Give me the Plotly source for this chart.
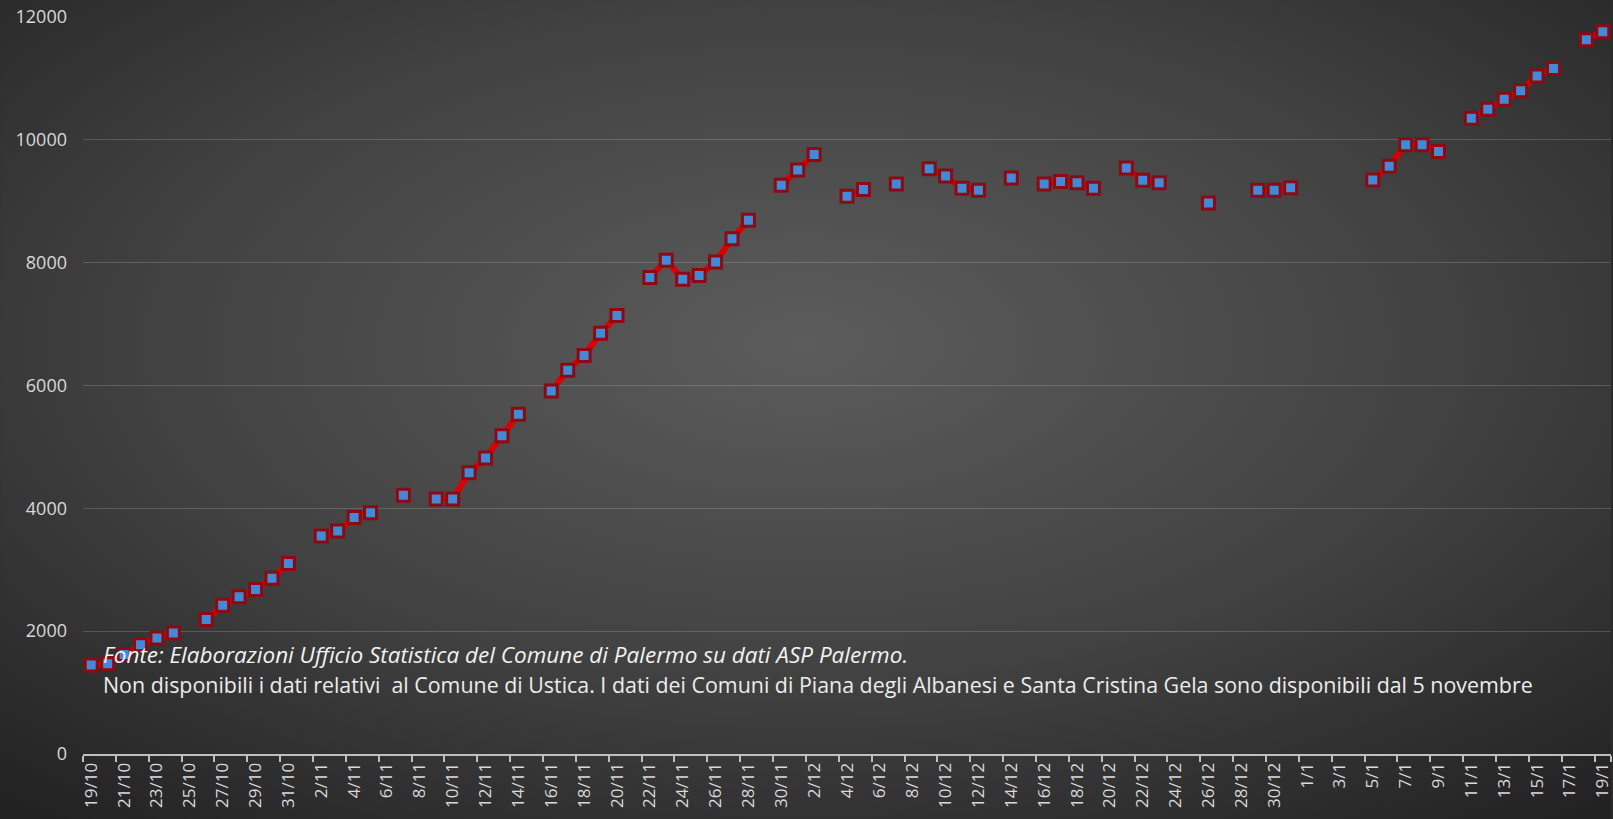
import base64
import plotly.graph_objects as go

# dates on the x axis, one category per day from 19/10 to 19/1
oct_days = [f"{d}/10" for d in range(19, 32)]
nov_days = [f"{d}/11" for d in range(1, 31)]
dec_days = [f"{d}/12" for d in range(1, 32)]
jan_days = [f"{d}/1" for d in range(1, 20)]
dates = oct_days + nov_days + dec_days + jan_days

# cumulative cases (None = no data that day)
oct_values = [1450, 1470, 1620, 1780, 1890, 1970, None, 2190, 2420, 2560, 2680, 2860, 3100]
nov_values = [None, 3550, 3630, 3850, 3930, None, 4215, None, 4150, 4150,
              4580, 4820, 5180, 5530, None, 5910, 6250, 6490, 6850, 7140,
              None, 7760, 8040, 7730, 7790, 8010, 8390, 8690, None, 9260]
dec_values = [9510, 9760, None, 9080, 9190, None, 9280, None, 9530, 9410,
              9210, 9180, None, 9380, None, 9280, 9320, 9300, 9210, None,
              9540, 9340, 9300, None, None, 8970, None, None, 9180, 9180, 9220]
jan_values = [None, None, None, None, 9345, 9570, 9920, 9920, 9810, None,
              10350, 10500, 10660, 10800, 11040, 11160, None, 11630, 11760]
values = oct_values + nov_values + dec_values + jan_values

# labels shown every other day
tick_labels = dates[::2]

y_ticks = [0, 2000, 4000, 6000, 8000, 10000, 12000]
y_tick_text = ["0", "2000", "4000", "6000", "8000", "10000", "12000"]

note_source = "Fonte: Elaborazioni Ufficio Statistica del Comune di Palermo su dati ASP Palermo."
note_missing = ("Non disponibili i dati relativi  al Comune di Ustica. I dati dei Comuni di Piana "
                "degli Albanesi e Santa Cristina Gela sono disponibili dal 5 novembre")

W, H = 1613, 819
L, R, T, B = 83, 0, 17, 65
pw, ph = W - L - R, H - T - B

# radial gradient background as an svg image
svg = (f"<svg xmlns='http://www.w3.org/2000/svg' width='{W}' height='{H}' "
       f"viewBox='0 0 {W} {H}' preserveAspectRatio='none'>"
       "<defs><radialGradient id='g' cx='0.5' cy='0.42' r='0.75'>"
       "<stop offset='0' stop-color='#5c5c5c'/>"
       "<stop offset='0.55' stop-color='#414141'/>"
       "<stop offset='1' stop-color='#222222'/>"
       "</radialGradient></defs>"
       f"<rect width='{W}' height='{H}' fill='url(#g)'/></svg>")
bg = "data:image/svg+xml;base64," + base64.b64encode(svg.encode()).decode()

fig = go.Figure()
fig.add_trace(go.Scatter(
    x=dates, y=values, mode="lines+markers", connectgaps=False,
    line=dict(color="#dc0000", width=6),
    marker=dict(symbol="square", size=12, color="#4289d8",
                line=dict(color="#8e0a12", width=3)),
    showlegend=False, hoverinfo="x+y",
))

fig.add_layout_image(dict(
    source=bg, xref="paper", yref="paper",
    x=-L / pw, y=1 + T / ph, sizex=W / pw, sizey=H / ph,
    xanchor="left", yanchor="top", sizing="stretch", layer="below",
))

fig.add_annotation(
    text=f"<i>{note_source}</i>", xref="paper", yref="paper",
    x=(101 - L) / pw, y=(754 - 654) / ph, xanchor="left", yanchor="middle",
    showarrow=False, font=dict(family="Open Sans", size=22.5, color="#f2f2f2"),
)
fig.add_annotation(
    text=note_missing, xref="paper", yref="paper",
    x=(101 - L) / pw, y=(754 - 684) / ph, xanchor="left", yanchor="middle",
    showarrow=False, font=dict(family="Open Sans", size=21.4, color="#ececec"),
)

fig.update_layout(
    width=W, height=H,
    margin=dict(l=L, r=R, t=T, b=B, pad=0),
    paper_bgcolor="#2b2b2b", plot_bgcolor="rgba(0,0,0,0)",
    font=dict(family="Open Sans", color="#d9d9d9"),
)
fig.update_xaxes(
    type="category", categoryorder="array", categoryarray=dates,
    range=[-0.5, len(dates) - 0.5],
    tickmode="array", tickvals=tick_labels, ticktext=tick_labels,
    tickson="boundaries", ticks="outside", ticklen=6, tickcolor="#bfbfbf", tickwidth=1.5,
    tickangle=-90, tickfont=dict(family="Open Sans", size=17, color="#d9d9d9"),
    showline=True, linecolor="#bfbfbf", linewidth=2,
    showgrid=False, zeroline=False,
)
fig.update_yaxes(
    range=[0, 12000], tickvals=y_ticks, ticktext=y_tick_text,
    showgrid=True, gridcolor="rgba(255,255,255,0.17)", gridwidth=1,
    zeroline=False, showline=False,
    ticks="", ticklabelstandoff=15,
    tickfont=dict(family="Open Sans", size=18, color="#d9d9d9"),
)

# no page margin so the chart fills the window, and no toolbar
fig.write_html("out.html", config={"displayModeBar": False},
               post_script="document.body.style.margin='0';")
